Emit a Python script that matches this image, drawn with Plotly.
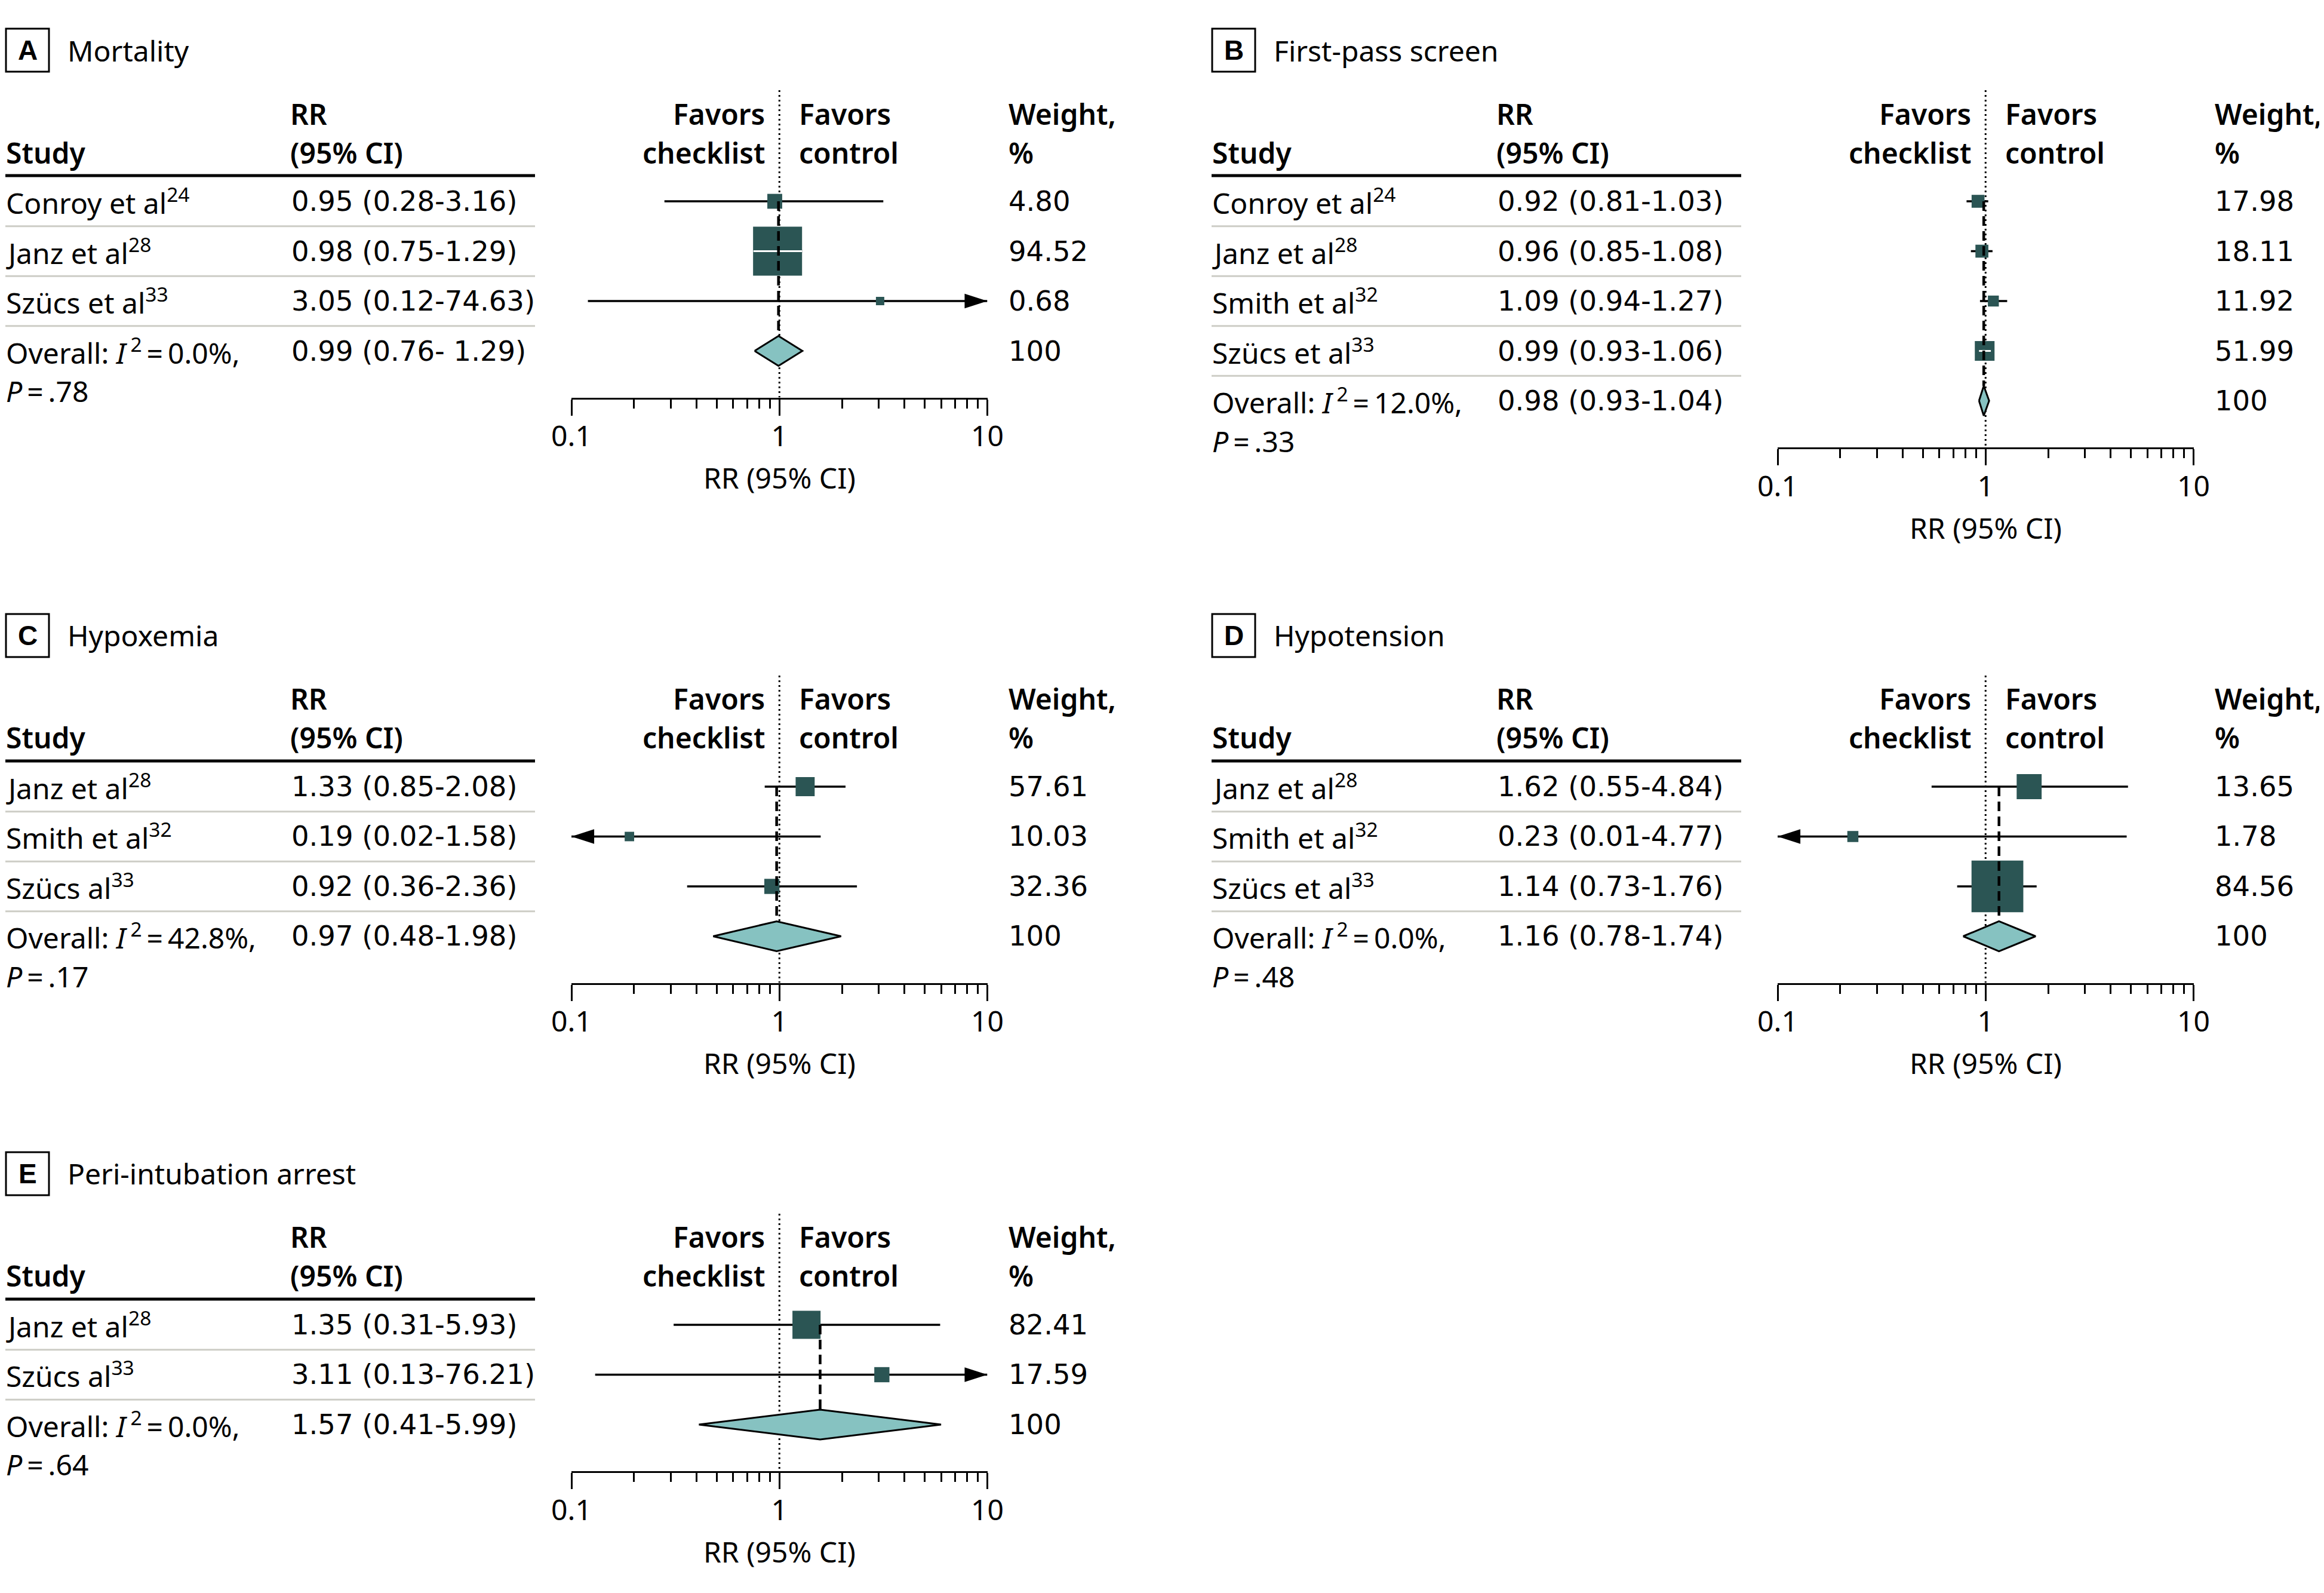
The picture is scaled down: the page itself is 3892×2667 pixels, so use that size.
import numpy as np
import plotly.graph_objects as go

W, H = 3892, 2667

# ---------------- data ----------------
panel_letters = ["A", "B", "C", "D", "E"]
panel_titles = ["Mortality", "First-pass screen", "Hypoxemia", "Hypotension", "Peri-intubation arrest"]

A_study = ["Conroy et al", "Janz et al", "Szücs et al"]
A_ref = ["24", "28", "33"]
A_rr = [0.95, 0.98, 3.05]
A_lo = [0.28, 0.75, 0.12]
A_hi = [3.16, 1.29, 74.63]
A_weight = [4.80, 94.52, 0.68]
A_overall = [0.99, 0.76, 1.29]
A_overall_label = "0.99 (0.76- 1.29)"
A_i2 = "0.0%"
A_p = ".78"

B_study = ["Conroy et al", "Janz et al", "Smith et al", "Szücs et al"]
B_ref = ["24", "28", "32", "33"]
B_rr = [0.92, 0.96, 1.09, 0.99]
B_lo = [0.81, 0.85, 0.94, 0.93]
B_hi = [1.03, 1.08, 1.27, 1.06]
B_weight = [17.98, 18.11, 11.92, 51.99]
B_overall = [0.98, 0.93, 1.04]
B_overall_label = "0.98 (0.93-1.04)"
B_i2 = "12.0%"
B_p = ".33"

C_study = ["Janz et al", "Smith et al", "Szücs al"]
C_ref = ["28", "32", "33"]
C_rr = [1.33, 0.19, 0.92]
C_lo = [0.85, 0.02, 0.36]
C_hi = [2.08, 1.58, 2.36]
C_weight = [57.61, 10.03, 32.36]
C_overall = [0.97, 0.48, 1.98]
C_overall_label = "0.97 (0.48-1.98)"
C_i2 = "42.8%"
C_p = ".17"

D_study = ["Janz et al", "Smith et al", "Szücs et al"]
D_ref = ["28", "32", "33"]
D_rr = [1.62, 0.23, 1.14]
D_lo = [0.55, 0.01, 0.73]
D_hi = [4.84, 4.77, 1.76]
D_weight = [13.65, 1.78, 84.56]
D_overall = [1.16, 0.78, 1.74]
D_overall_label = "1.16 (0.78-1.74)"
D_i2 = "0.0%"
D_p = ".48"

E_study = ["Janz et al", "Szücs al"]
E_ref = ["28", "33"]
E_rr = [1.35, 3.11]
E_lo = [0.31, 0.13]
E_hi = [5.93, 76.21]
E_weight = [82.41, 17.59]
E_overall = [1.57, 0.41, 5.99]
E_overall_label = "1.57 (0.41-5.99)"
E_i2 = "0.0%"
E_p = ".64"

axis_tickvals = [0.1, 1, 10]
axis_ticktext = ["0.1", "1", "10"]
axis_minorvals = [0.2, 0.3, 0.4, 0.5, 0.6, 0.7, 0.8, 0.9, 2, 3, 4, 5, 6, 7, 8, 9]
axis_title = "RR (95% CI)"

# ---------------- styles / layout constants ----------------
BODY = "Noto Sans, Open Sans, DejaVu Sans, sans-serif"
NUMF = "DejaVu Sans, Noto Sans, sans-serif"
TITLEF = "Noto Sans, DejaVu Sans, sans-serif"
LETTERF = "Liberation Sans, Arial, sans-serif"
FS = 48
FS_NUM = 46.5
BOX_COLOR = "#2b5554"
DIAMOND_COLOR = "#86c2c1"
SEP_COLOR = "#cdcdc6"

OFF = 8  # page body margin of the html page
ROW = 83.5
PANEL_X = [0, 2020, 0, 2020, 0]
PANEL_ROW1 = [337, 337, 1317, 1317, 2218]
BOX_SCALE = [13.3, 6.8, 6.3, 14.7, 8.06]
AX_L, AX_R = 957, 1653.5
DEC_PX = (AX_R - AX_L) / 2.0
STUDY_X, RR_X, WT_X = 8, 486, 1687
LINE_L, LINE_R = 9, 896
FAV_L_SHIFT, FAV_R_SHIFT = -22, 31
TITLE_OFF = 253 / ROW
AXIS_GAP = 78 / ROW
P_GAP = 67 / ROW
DOT_TOP = 1 - 186 / ROW
DIAM_H = 0.3


def px_x(px):
    return (px - OFF) / W


def px_y(py):
    return 1 - (py - OFF) / H


panels = [
    (A_study, A_ref, A_rr, A_lo, A_hi, A_weight, A_overall, A_overall_label, A_i2, A_p),
    (B_study, B_ref, B_rr, B_lo, B_hi, B_weight, B_overall, B_overall_label, B_i2, B_p),
    (C_study, C_ref, C_rr, C_lo, C_hi, C_weight, C_overall, C_overall_label, C_i2, C_p),
    (D_study, D_ref, D_rr, D_lo, D_hi, D_weight, D_overall, D_overall_label, D_i2, D_p),
    (E_study, E_ref, E_rr, E_lo, E_hi, E_weight, E_overall, E_overall_label, E_i2, E_p),
]

fig = go.Figure()
annotations = []
shapes = []
layout_axes = {}


def ann(text, x, y, yref, anchor="left", size=FS, family=BODY, weight=400, xref="paper", xshift=0):
    annotations.append(dict(
        text=text, x=x, xref=xref, y=y, yref=yref,
        xanchor=anchor, yanchor="middle", showarrow=False, xshift=xshift,
        font=dict(family=family, size=size, color="black", weight=weight)))


for k, (study, ref, rr, lo, hi, wt, ov, ov_label, i2, p) in enumerate(panels, start=1):
    x0 = PANEL_X[k - 1]
    y1 = PANEL_ROW1[k - 1]
    n = len(study)
    xa = "x" if k == 1 else f"x{k}"
    ya = "y" if k == 1 else f"y{k}"
    rows = np.arange(1, n + 1, dtype=float)
    r_ov = n + 1
    r_axis = n + 1 + AXIS_GAP
    r_top = -2.85
    top_px = y1 + (r_top - 1) * ROW
    bot_px = y1 + (r_axis - 1) * ROW

    layout_axes[f"yaxis{'' if k == 1 else k}"] = dict(
        domain=[max(0.0, px_y(bot_px)), min(1.0, px_y(top_px))], range=[r_axis, r_top], visible=False,
        anchor=xa, fixedrange=True)
    layout_axes[f"xaxis{'' if k == 1 else k}"] = dict(
        domain=[px_x(x0 + AX_L), px_x(x0 + AX_R)], type="log", range=[-1, 1], anchor=ya,
        showgrid=False, zeroline=False, showline=True, linecolor="black", linewidth=3,
        ticks="outside", ticklen=27, tickwidth=3, tickcolor="black",
        tickvals=axis_tickvals, ticktext=axis_ticktext, ticklabelstandoff=-6,
        tickfont=dict(family=BODY, size=FS, color="black"),
        minor=dict(tickvals=axis_minorvals, ticks="outside", ticklen=15, tickwidth=3,
                   tickcolor="black", showgrid=False),
        fixedrange=True)

    # dotted null line
    fig.add_trace(go.Scatter(x=[1, 1], y=[DOT_TOP, r_axis], mode="lines", xaxis=xa, yaxis=ya,
                             line=dict(color="black", width=3, dash="3px,5px"), hoverinfo="skip"))

    # CI lines (clipped to axis)
    rr_a, lo_a, hi_a, wt_a = map(np.asarray, (rr, lo, hi, wt))
    lo_c = np.clip(lo_a, 0.1, 10)
    hi_c = np.clip(hi_a, 0.1, 10)
    cx, cy = [], []
    for i in range(n):
        cx += [lo_c[i], hi_c[i], None]
        cy += [rows[i], rows[i], None]
    fig.add_trace(go.Scatter(x=cx, y=cy, mode="lines", xaxis=xa, yaxis=ya,
                             line=dict(color="black", width=3.5), hoverinfo="skip"))

    # arrows for truncated CIs
    ar_r = hi_a > 10
    ar_l = lo_a < 0.1
    if ar_r.any():
        fig.add_trace(go.Scatter(x=hi_c[ar_r], y=rows[ar_r], mode="markers", xaxis=xa, yaxis=ya,
                                 cliponaxis=False,
                                 marker=dict(symbol="arrow", angle=90, size=40, color="black", opacity=1),
                                 hoverinfo="skip"))
    if ar_l.any():
        fig.add_trace(go.Scatter(x=lo_c[ar_l], y=rows[ar_l], mode="markers", xaxis=xa, yaxis=ya,
                                 cliponaxis=False,
                                 marker=dict(symbol="arrow", angle=-90, size=40, color="black", opacity=1),
                                 hoverinfo="skip"))

    # boxes sized by weight
    sizes = np.maximum(14, BOX_SCALE[k - 1] * wt_a ** 0.4)
    fig.add_trace(go.Scatter(x=rr_a, y=rows, mode="markers", xaxis=xa, yaxis=ya, cliponaxis=False,
                             marker=dict(symbol="square", size=sizes, color=BOX_COLOR, opacity=1,
                                         line=dict(width=0)),
                             hoverinfo="skip"))

    # white CI line where the CI lies within the box
    half = sizes / 2 / DEC_PX
    tol = 3 / DEC_PX
    inside = (np.log10(lo_a) >= np.log10(rr_a) - half - tol) & (np.log10(hi_a) <= np.log10(rr_a) + half + tol)
    if inside.any():
        wx, wy = [], []
        for i in np.where(inside)[0]:
            wx += [lo_a[i], hi_a[i], None]
            wy += [rows[i], rows[i], None]
        fig.add_trace(go.Scatter(x=wx, y=wy, mode="lines", xaxis=xa, yaxis=ya,
                                 line=dict(color="white", width=3), hoverinfo="skip"))

    # overall diamond
    est, olo, ohi = ov
    fig.add_trace(go.Scatter(x=[olo, est, ohi, est, olo], y=[r_ov, r_ov - DIAM_H, r_ov, r_ov + DIAM_H, r_ov],
                             mode="lines", fill="toself", fillcolor=DIAMOND_COLOR, xaxis=xa, yaxis=ya,
                             line=dict(color="black", width=3), hoverinfo="skip"))
    # dashed overall line
    fig.add_trace(go.Scatter(x=[est, est], y=[1, r_ov - DIAM_H], mode="lines", xaxis=xa, yaxis=ya,
                             line=dict(color="black", width=4.5, dash="16px,9px"), hoverinfo="skip"))

    # ---- title ----
    r_title = 1 - TITLE_OFF
    shapes.append(dict(type="rect", xref="paper", yref=ya, x0=px_x(x0 + 10), x1=px_x(x0 + 82),
                       y0=r_title - 36 / ROW, y1=r_title + 36 / ROW,
                       line=dict(color="black", width=3), fillcolor="white"))
    ann(panel_letters[k - 1], px_x(x0 + 46), r_title, ya, anchor="center", size=46, family=LETTERF, weight=700)
    ann(panel_titles[k - 1], px_x(x0 + 111), r_title, ya, size=48, family=TITLEF)

    # ---- headers ----
    r_h1 = 1 - 147 / ROW
    r_h2 = 1 - 82 / ROW
    ann("Study", px_x(x0 + STUDY_X), r_h2, ya, weight=600)
    ann("RR", px_x(x0 + RR_X - 2), r_h1, ya, weight=600)
    ann("(95% CI)", px_x(x0 + RR_X - 2), r_h2, ya, weight=600)
    ann("Favors", 0, r_h1, ya, anchor="right", weight=600, xref=xa, xshift=FAV_L_SHIFT)
    ann("checklist", 0, r_h2, ya, anchor="right", weight=600, xref=xa, xshift=FAV_L_SHIFT)
    ann("Favors", 0, r_h1, ya, anchor="left", weight=600, xref=xa, xshift=FAV_R_SHIFT)
    ann("control", 0, r_h2, ya, anchor="left", weight=600, xref=xa, xshift=FAV_R_SHIFT)
    ann("Weight,", px_x(x0 + WT_X), r_h1, ya, weight=600)
    ann("%", px_x(x0 + WT_X), r_h2, ya, weight=600)

    shapes.append(dict(type="line", xref="paper", yref=ya, x0=px_x(x0 + LINE_L), x1=px_x(x0 + LINE_R),
                       y0=1 - 43 / ROW, y1=1 - 43 / ROW, line=dict(color="black", width=5)))
    for i in range(n):
        shapes.append(dict(type="line", xref="paper", yref=ya, x0=px_x(x0 + LINE_L), x1=px_x(x0 + LINE_R),
                           y0=rows[i] + 0.5, y1=rows[i] + 0.5, line=dict(color=SEP_COLOR, width=3)))

    # ---- rows ----
    for i in range(n):
        ann(f"{study[i]}<sup>{ref[i]}</sup>", px_x(x0 + STUDY_X), rows[i], ya)
        ann(f"{rr[i]:.2f} ({lo[i]:.2f}-{hi[i]:.2f})", px_x(x0 + RR_X), rows[i], ya, size=FS_NUM, family=NUMF)
        ann(f"{wt[i]:.2f}", px_x(x0 + WT_X), rows[i], ya, size=FS_NUM, family=NUMF)
    ann(f"Overall: <i>I</i>\u2009<sup>2</sup>\u2009=\u2009{i2},", px_x(x0 + STUDY_X), r_ov, ya)
    ann(f"<i>P</i>\u2009=\u2009{p}", px_x(x0 + STUDY_X), r_ov + P_GAP, ya)
    ann(ov_label, px_x(x0 + RR_X), r_ov, ya, size=FS_NUM, family=NUMF)
    ann("100", px_x(x0 + WT_X), r_ov, ya, size=FS_NUM, family=NUMF)

    # axis title (below the axis, centred on RR = 1)
    ax_px = y1 + (r_axis - 1) * ROW
    ann(axis_title, 0, px_y(ax_px + 134), "paper", anchor="center", xref=xa)

fig.update_layout(
    width=W, height=H, autosize=False,
    margin=dict(l=0, r=0, t=0, b=0, pad=0, autoexpand=False),
    paper_bgcolor="white", plot_bgcolor="rgba(0,0,0,0)",
    showlegend=False,
    annotations=annotations, shapes=shapes,
    **layout_axes,
)

fig.write_html("out.html")
